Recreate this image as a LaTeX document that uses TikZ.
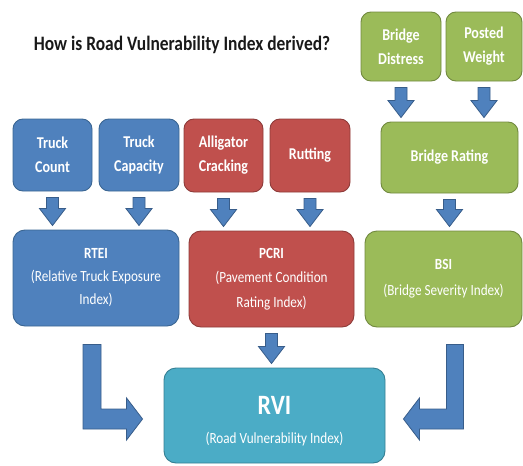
\documentclass[tikz,border=0pt]{standalone}
\usepackage{fontspec}
\setmainfont{Carlito}[FakeStretch=0.85]
\usetikzlibrary{calc}
\definecolor{bfill}{HTML}{4F81BD}
\definecolor{bdraw}{HTML}{3A6592}
\definecolor{rfill}{HTML}{C0504D}
\definecolor{rdraw}{HTML}{8E3B39}
\definecolor{gfill}{HTML}{9BBB59}
\definecolor{gdraw}{HTML}{71893F}
\definecolor{tfill}{HTML}{4BACC6}
\definecolor{tdraw}{HTML}{357F93}
\definecolor{afill}{HTML}{4F81BD}
\definecolor{adraw}{HTML}{385D8A}
\tikzset{
  box/.style={rounded corners=10pt, draw, line width=0.9pt, text=white, align=center, inner sep=2pt},
  smallbox/.style={box, font=\bfseries\fontsize{16.5}{24}\selectfont},
  bigbox/.style={box, rounded corners=12pt, minimum height=96pt, font=\fontsize{15.5}{23}\selectfont},
  bluebox/.style={fill=bfill, draw=bdraw},
  redbox/.style={fill=rfill, draw=rdraw},
  greenbox/.style={fill=gfill, draw=gdraw},
  tealbox/.style={fill=tfill, draw=tdraw},
  barrow/.style={fill=afill, draw=adraw, line width=0.8pt, line join=miter}
}
\newcommand\downarr[2]{%
  \path[barrow] let \p1=($(#1.south)+(0,-6pt)$), \p2=($(#1.south |- #2.north)+(0,4pt)$) in
  ({\x1-6pt},\y1) -- ({\x1+6pt},\y1) -- ({\x1+6pt},{\y2+17pt}) -- ({\x1+13pt},{\y2+17pt})
  -- (\x1,\y2) -- ({\x1-13pt},{\y2+17pt}) -- ({\x1-6pt},{\y2+17pt}) -- cycle;}
\begin{document}
\begin{tikzpicture}[x=1pt,y=-1pt]
\useasboundingbox (0,0) rectangle (523,466);
\node[font=\bfseries\fontsize{20.5}{24}\selectfont, text=black!90] (title) at (182,45) {How is Road Vulnerability Index derived?};
% small input boxes
\node[smallbox, bluebox, minimum width=79pt, minimum height=72pt] (tc) at (52.5,155) {Truck\\Count};
\node[smallbox, bluebox, minimum width=80pt, minimum height=72pt] (tcap) at (139,155) {Truck\\Capacity};
\node[smallbox, redbox, minimum width=79pt, minimum height=73pt] (ac) at (223.5,155.5) {Alligator\\Cracking};
\node[smallbox, redbox, minimum width=80pt, minimum height=73pt] (rut) at (310,155.5) {Rutting};
\node[smallbox, greenbox, minimum width=80pt, minimum height=69pt] (bd) at (401,46.5) {Bridge\\Distress};
\node[smallbox, greenbox, minimum width=76pt, minimum height=69pt] (pw) at (484,46.5) {Posted\\Weight};
\node[smallbox, greenbox, minimum width=137pt, minimum height=71pt] (br) at (449.5,157.5) {Bridge Rating};
% index boxes
\node[bigbox, bluebox, minimum width=166pt] (rtei) at (96,278) {\textbf{RTEI}\\(Relative Truck Exposure\\Index)};
\node[bigbox, redbox, minimum width=165pt, font=\fontsize{15.5}{24.5}\selectfont] (pcri) at (271.5,279) {\textbf{PCRI}\\(Pavement Condition\\Rating Index)};
\node[bigbox, greenbox, minimum width=157pt, font=\fontsize{15.5}{26}\selectfont] (bsi) at (443.5,279) {\textbf{BSI}\\(Bridge Severity Index)};
\node[bigbox, tealbox, minimum width=221pt, minimum height=95pt, font=\fontsize{15.5}{28.5}\selectfont] (rvi) at (274.5,415.5)
  {{\fontsize{28}{28.5}\selectfont\bfseries\rule{0pt}{29pt}RVI}\\(Road Vulnerability Index)};
% straight arrows
\downarr{tc}{rtei}
\downarr{tcap}{rtei}
\downarr{ac}{pcri}
\downarr{rut}{pcri}
\downarr{bd}{br}
\downarr{pw}{br}
\downarr{br}{bsi}
\downarr{pcri}{rvi}
% bent arrows
\path[barrow] let \p1=($(rtei.south)+(-4pt,-18pt)$), \p2=($(rvi.west)+(-21pt,-3.5pt)$) in
  ({\x1-9pt},\y1) -- ({\x1+9pt},\y1) -- ({\x1+9pt},{\y2+10pt}) -- ({\x2-16pt},{\y2+10pt})
  -- ({\x2-16pt},{\y2+21pt}) -- (\x2,\y2) -- ({\x2-16pt},{\y2-21pt}) -- ({\x2-16pt},{\y2-10pt})
  -- ({\x1-9pt},{\y2-10pt}) -- cycle;
\path[barrow] let \p1=($(bsi.south)+(11.5pt,-17pt)$), \p2=($(rvi.east)+(18pt,-3.5pt)$) in
  ({\x1+8.5pt},\y1) -- ({\x1-8.5pt},\y1) -- ({\x1-8.5pt},{\y2+10pt}) -- ({\x2+16pt},{\y2+10pt})
  -- ({\x2+16pt},{\y2+21pt}) -- (\x2,\y2) -- ({\x2+16pt},{\y2-21pt}) -- ({\x2+16pt},{\y2-10pt})
  -- ({\x1+8.5pt},{\y2-10pt}) -- cycle;
\end{tikzpicture}
\end{document}
